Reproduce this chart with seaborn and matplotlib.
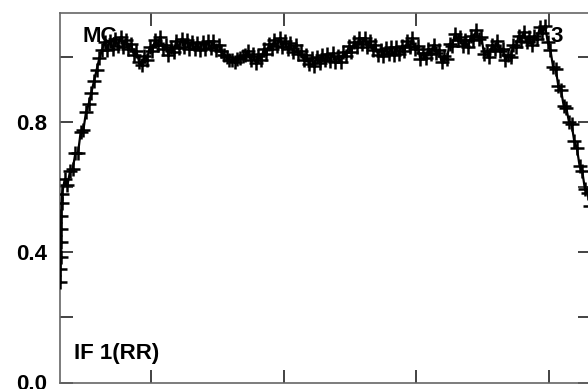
#!/usr/bin/env python3
import numpy as np
import pandas as pd
import matplotlib
matplotlib.use("Agg")
import matplotlib.pyplot as plt
import seaborn as sns

sns.set_theme(style="ticks")
plt.rcParams["font.family"] = ["Liberation Sans", "DejaVu Sans"]
plt.rcParams["font.weight"] = "bold"
plt.rcParams["text.color"] = "black"
plt.rcParams["ytick.labelcolor"] = "black"

# ===============================
# DATOS (amplitud del bandpass, IF 1 RR)
# ===============================
# primeros canales: subida muy rapida pegada al borde
EDGE_CH = [31.6, 31.75, 31.9, 32.05, 32.2, 32.4, 32.6]
EDGE_AMP = [0.31, 0.35, 0.385, 0.43, 0.47, 0.51, 0.55]

# resto de canales, cada 2 canales desde el 33
CHANNELS = np.arange(33, 432, 2)
AMP = [
    0.58, 0.625, 0.605, 0.65, 0.655, 0.705, 0.705, 0.77, 0.775, 0.83,
    0.855, 0.89, 0.925, 0.96, 0.995, 1.02, 1.045, 1.02, 1.05, 1.025,
    1.055, 1.033, 1.06, 1.031, 1.053, 1.025, 1.04, 1.005, 1.017, 0.985,
    0.975, 1.003, 0.99, 1.03, 1.017, 1.053, 1.035, 1.06, 1.025, 1.037,
    1.007, 1.029, 1.015, 1.049, 1.027, 1.055, 1.03, 1.052, 1.025, 1.045,
    1.023, 1.043, 1.02, 1.045, 1.025, 1.048, 1.027, 1.047, 1.021, 1.037,
    1.017, 1.005, 0.999, 0.99, 0.989, 0.985, 0.993, 0.997, 1.003, 1.005,
    1.017, 0.991, 1.008, 0.982, 1.002, 0.99, 1.025, 1.01, 1.04, 1.023,
    1.053, 1.033, 1.057, 1.029, 1.049, 1.023, 1.041, 1.015, 1.035, 1.009,
    1.017, 0.991, 1.005, 0.978, 0.995, 0.971, 0.999, 0.982, 1.007, 0.989,
    1.009, 0.987, 1.011, 0.983, 1.001, 0.984, 1.015, 1.002, 1.032, 1.015,
    1.045, 1.029, 1.059, 1.038, 1.058, 1.031, 1.05, 1.02, 1.035, 1.007,
    1.022, 1.001, 1.027, 1.008, 1.03, 1.004, 1.031, 1.009, 1.033, 1.018,
    1.047, 1.03, 1.058, 1.025, 1.033, 0.992, 1.013, 0.995, 1.025, 1.009,
    1.037, 1.013, 1.021, 0.983, 1.001, 0.993, 1.04, 1.033, 1.071, 1.053,
    1.061, 1.032, 1.051, 1.029, 1.063, 1.052, 1.083, 1.055, 1.061, 1.008,
    1.019, 1.0, 1.037, 1.025, 1.05, 1.019, 1.025, 0.989, 1.007, 0.999,
    1.037, 1.029, 1.065, 1.05, 1.077, 1.045, 1.06, 1.035, 1.065, 1.055,
    1.09, 1.073, 1.095, 1.045, 1.021, 0.97, 0.963, 0.91, 0.898, 0.85,
    0.843, 0.8, 0.793, 0.74, 0.719, 0.665, 0.648, 0.595, 0.583, 0.543,
]

X_TICKS = [100, 200, 300, 400]
Y_TICKS = [0.0, 0.2, 0.4, 0.6, 0.8, 1.0]
Y_LABELS = ["0.0", "", "0.4", "", "0.8", ""]

df = pd.DataFrame({
    "canal": list(EDGE_CH) + list(CHANNELS),
    "amp": EDGE_AMP + AMP,
})

# ===============================
# GRAFICO
# ===============================
fig = plt.figure(figsize=(5.88, 3.89), dpi=100)
ax = fig.add_axes([60 / 588, 6.5 / 389, 531 / 588, 370 / 389])

sns.lineplot(
    data=df, x="canal", y="amp", ax=ax, sort=False, estimator=None,
    color="black", linewidth=1.6, marker="+", markersize=10.5,
    markeredgewidth=1.8, markeredgecolor="black", zorder=3,
)

ax.set_xlim(31.4, 431.6)
ax.set_ylim(0, 1.136)
ax.set_xticks(X_TICKS)
ax.set_xticklabels([])
ax.set_yticks(Y_TICKS)
ax.set_yticklabels(Y_LABELS, fontsize=16, fontweight="bold", color="black")
ax.set_xlabel("")
ax.set_ylabel("")

ax.tick_params(axis="both", direction="in", length=9.5, width=1.2,
               color="#222222", top=True, right=True, pad=9)
for side in ["left", "right", "top", "bottom"]:
    ax.spines[side].set_color("#666666")
    ax.spines[side].set_linewidth(1.2)

# textos en pixeles de la figura (y medida desde arriba)
H = 389
ax.text(82, H - 37, "MC", transform=None, fontsize=16, fontweight="bold",
        color="black", va="center", ha="left", zorder=1)
ax.text(550, H - 37, "3", transform=None, fontsize=16, fontweight="bold",
        color="black", va="center", ha="left", zorder=1)
ax.text(74, H - 353, "IF 1(RR)", transform=None, fontsize=16,
        fontweight="bold", color="black", va="center", ha="left")

fig.savefig("out.png", dpi=100)
plt.close(fig)
print("Grafico guardado: out.png")
